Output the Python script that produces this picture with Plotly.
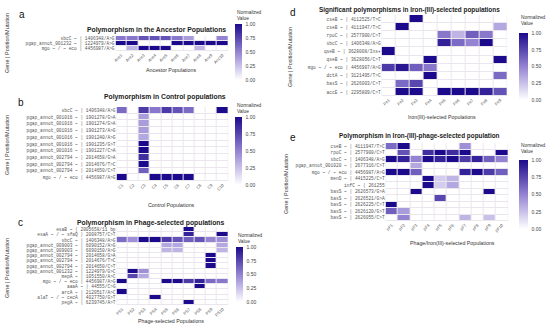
import plotly.graph_objects as go

# ---------------- data ----------------
anc_cols = [f"Anc{i}" for i in range(1, 11)]
anc_rows = ["sbcC ~ | 1406348/A>G",
            "pgap_annot_001232 ~ | 1224979/A>G",
            "mgo ~ / ~ eco | 4456987/A>G"]
anc_vals = [
    [0.55, 0.55, 0.7, 0.7, 0.7, 0.55, 0.4, 0, 0, 0.5],
    [1.0, 1.0, 0, 0, 0, 1.0, 1.0, 1.0, 1.0, 1.0],
    [0, 0.3, 1.0, 1.0, 1.0, 0, 0, 0.3, 0, 0],
]

ctl_cols = [f"C{i}" for i in range(1, 11)]
ctl_rows = ["sbcC ~ | 1406348/A>G",
            "pgap_annot_001016 ~ | 1901278/G>A",
            "pgap_annot_001016 ~ | 1901274/G>A",
            "pgap_annot_001016 ~ | 1901273/A>G",
            "pgap_annot_001016 ~ | 1901240/A>G",
            "pgap_annot_001016 ~ | 1901235/G>T",
            "pgap_annot_001016 ~ | 1901227/C>A",
            "pgap_annot_002794 ~ | 2014658/G>A",
            "pgap_annot_002794 ~ | 2014676/T>C",
            "pgap_annot_002794 ~ | 2014650/C>T",
            "mgo ~ / ~ eco | 4456987/A>G"]
ctl_vals = [
    [0.6, 0, 0.8, 0.55, 0.8, 0.7, 0.6, 0, 0, 1.0],
    [0, 0, 0.4, 0, 0, 0, 0, 0, 0, 0],
    [0, 0, 0.4, 0, 0, 0, 0, 0, 0, 0],
    [0, 0, 0.4, 0, 0, 0, 0, 0, 0, 0],
    [0, 0, 0.35, 0, 0, 0, 0, 0, 0, 0],
    [0, 0, 1.0, 0, 0, 0, 0, 0, 0, 0],
    [0, 0, 1.0, 0, 0, 0, 0, 0, 0, 0],
    [0, 0, 0.85, 0, 0, 0, 0, 0, 0, 0],
    [0, 0, 1.0, 0, 0, 0, 0, 0, 0, 0],
    [0, 0, 0.65, 0, 0, 0, 0, 0, 0, 0],
    [1.0, 0, 0, 1.0, 1.0, 1.0, 1.0, 0, 0, 0],
]

ps_cols = [f"PS{i}" for i in range(1, 11)]
ps_rows = ["esaB ~ | 2005658/11 bp",
           "esaA ~ / ~ sfaQ | 2008757/C>T",
           "sbcC ~ | 1406348/A>G",
           "pgap_annot_009003 ~ | 6090152/A>G",
           "pgap_annot_009003 ~ | 6090150/A>G",
           "pgap_annot_002794 ~ | 2014658/G>A",
           "pgap_annot_002794 ~ | 2014676/T>C",
           "pgap_annot_002794 ~ | 2014650/C>T",
           "pgap_annot_001232 ~ | 1224979/G>C",
           "mepA ~ | 1051550/A>C",
           "mgo ~ / ~ eco | 4456987/A>G",
           "aaaA ~ | 44555/C>G",
           "arcA ~ | 2120517/A>C",
           "alaT ~ / ~ cecA | 4027750/G>T",
           "pegA ~ | 6239745/A>T"]
ps_vals = [
    [0, 0, 0, 0, 0, 0, 1.0, 0, 0, 0],
    [0, 0, 0, 0, 0, 0, 0.9, 0, 0, 1.0],
    [0.6, 0.45, 1.0, 1.0, 0.8, 0.7, 0.65, 0.7, 0.5, 0.45],
    [0, 0, 0, 0, 0.35, 0.35, 0, 0, 0, 0.35],
    [0, 0, 0, 0, 0.3, 0.3, 0, 0, 0, 0.3],
    [0, 0, 0, 0, 0, 0, 0, 0, 1.0, 0],
    [0, 0, 0, 0, 0, 0, 0, 0, 1.0, 0],
    [0, 0, 0, 0, 0, 0, 0, 0, 1.0, 0],
    [0, 1.0, 0.45, 0, 0, 0, 0, 0, 0, 0],
    [0, 0.75, 0.35, 0, 0, 0, 0, 0, 0, 0],
    [1.0, 0, 0, 0, 1.0, 1.0, 0.8, 0.9, 0.6, 0.55],
    [0, 0, 0, 0, 0, 0, 0, 1.0, 0, 0],
    [1.0, 0, 0, 0, 0, 0, 0, 0, 0, 0],
    [0, 0, 0, 1.0, 0, 0, 0, 0, 0, 0],
    [0, 0, 0, 0, 0, 0, 1.0, 0, 0, 0],
]

fe_cols = [f"Fe{i}" for i in range(1, 10)]
fe_rows = ["cseB ~ | 4112525/T>C",
           "cseB ~ | 4111947/T>C",
           "rpoC ~ | 2577900/C>T",
           "sbcC ~ | 1406348/A>G",
           "qseB ~ | 3628008/Ins+",
           "qseB ~ | 3628056/C>T",
           "mgo ~ / ~ eco | 4456987/A>G",
           "dctA ~ | 3121495/T>C",
           "basS ~ | 2626003/C>T",
           "accE ~ | 2295809/C>T"]
fe_vals = [
    [0, 0, 1.0, 0, 0, 0, 0, 0, 0],
    [0, 1.0, 0, 0, 0, 0, 0, 0, 0.35],
    [0, 0, 0, 0, 0.55, 0.3, 0.65, 0.55, 0],
    [0, 0, 0, 0, 0.9, 0.6, 0.5, 1.0, 0],
    [1.0, 0, 0, 0, 0, 0, 0, 0, 0],
    [0, 0, 0, 1.0, 0, 0, 0, 0, 1.0],
    [0.8, 0.95, 0.65, 0.55, 0, 0, 0, 0, 0],
    [0, 0, 0, 1.0, 0, 0, 0, 0, 0.6],
    [0, 0.6, 0.75, 0, 0, 0, 0, 0, 0],
    [0, 1.0, 1.0, 0, 1.0, 1.0, 1.0, 0.9, 0.7],
]

pf_cols = [f"pF{i}" for i in range(1, 11)]
pf_rows = ["cseB ~ | 4111947/T>C",
           "rpoC ~ | 2577900/C>T",
           "sbcC ~ | 1406348/A>G",
           "pgap_annot_001020 ~ | 2677316/C>T",
           "mgo ~ / ~ eco | 4456987/A>G",
           "menD ~ | 4415225/C>T",
           "infC ~ | 261255",
           "basS ~ | 2626573/G>A",
           "basS ~ | 2626521/G>A",
           "basS ~ | 2626225/C>T",
           "basS ~ | 2626120/G>T",
           "basS ~ | 2626055/C>T"]
pf_vals = [
    [0.6, 1.0, 0, 0, 0, 0, 0.45, 0, 0, 0],
    [0, 0.7, 0, 0.85, 1.0, 0.85, 1.0, 0, 0, 1.0],
    [1.0, 0.9, 0.5, 1.0, 0.9, 1.0, 0.8, 0.9, 0.65, 0.5],
    [0, 0, 0.35, 0, 0, 0, 0, 0, 0, 0],
    [1.0, 1.0, 0.65, 0, 0, 0, 0.9, 1.0, 0.8, 0.65],
    [0, 0, 0, 1.0, 0.2, 0.3, 0, 0, 0, 0],
    [0, 0, 0, 1.0, 0.2, 0.35, 0, 0, 0, 0],
    [0, 0, 1.0, 0, 0, 0, 0, 0, 1.0, 0],
    [0, 0, 0, 0, 0.75, 0, 0, 0, 0, 0],
    [1.0, 0, 0, 0, 0, 0, 0, 0, 0, 0],
    [0.65, 0.4, 0, 0, 0, 0, 0, 0, 0, 0],
    [0, 0.5, 0, 0, 0, 0, 0.3, 0, 0.25, 0],
]

titles = ["Polymorphism in the Ancestor Populations",
          "Polymorphism in Control populations",
          "Polymorphism in Phage-selected populations",
          "Significant polymorphisms in Iron-(III)-selected populations",
          "Polymorphism in Iron-(III)-phage-selected population"]
xtitles = ["Ancestor Populations", "Control Populations",
           "Phage-selected Populations", "Iron(III)-selected Populations",
           "Phage/Iron(III)-selected Populations"]
letters = ["a", "b", "c", "d", "e"]

# ---------------- layout geometry (pixels) ----------------
W, H = 550, 328
panels = [
    dict(hm=(114, 227, 36, 51), cb=(234, 24, 80), title=(155, 30), xt=(170, 70), let=(20, 14), yt=(5, 43), nv=8),
    dict(hm=(115, 227, 107, 181), cb=(234, 117, 185), title=(164, 97), xt=(170, 205), let=(19, 103), yt=(5, 145), nv=101),
    dict(hm=(115, 227, 227, 305), cb=(235, 247, 302), title=(150, 223), xt=(170, 321), let=(19, 222), yt=(5, 268), nv=231),
    dict(hm=(381, 507, 15, 96), cb=(519, 33, 100), title=(409, 10), xt=(442, 117), let=(292, 12), yt=(289, 57), nv=13),
    dict(hm=(385, 508, 143, 221), cb=(519, 160, 229), title=(419, 136), xt=(452, 243), let=(292, 138), yt=(285, 184), nv=141),
]

cols_list = [anc_cols, ctl_cols, ps_cols, fe_cols, pf_cols]
rows_list = [anc_rows, ctl_rows, ps_rows, fe_rows, pf_rows]
vals_list = [anc_vals, ctl_vals, ps_vals, fe_vals, pf_vals]

cscale = [[0, "#ffffff"], [0.5, "#9483d2"], [1, "#1c0a8c"]]

fig = go.Figure()
annotations = []
layout_axes = {}

for i, p in enumerate(panels):
    n = i + 1
    sx = "" if n == 1 else str(n)
    x0, x1, y0, y1 = p["hm"]
    cbx, cby0, cby1 = p["cb"]
    fig.add_trace(go.Heatmap(
        z=vals_list[i], x=cols_list[i], y=rows_list[i],
        zmin=0, zmax=1, colorscale=cscale, xgap=1, ygap=1,
        xaxis="x" + sx, yaxis="y" + sx,
        colorbar=dict(x=cbx / W, xanchor="left", xpad=0, ypad=0,
                      y=1 - cby0 / H, yanchor="top",
                      len=(cby1 - cby0) / H, lenmode="fraction",
                      thickness=7 if i < 3 else 9, outlinewidth=0,
                      tickvals=[0, 0.25, 0.5, 0.75, 1],
                      ticktext=["0.00", "0.25", "0.50", "0.75", "1.00"],
                      ticks="outside", ticklen=3, tickcolor="rgba(255,255,255,0)",
                      tickfont=dict(size=5, color="#444", family="Liberation Sans")),
    ))
    layout_axes["xaxis" + sx] = dict(
        domain=[x0 / W, x1 / W], anchor="y" + sx, type="category",
        tickmode="array", tickvals=cols_list[i], ticktext=cols_list[i],
        tickangle=-45, tickfont=dict(size=4.2, color="#555", family="Liberation Sans"),
        showgrid=False, zeroline=False, ticks="", showline=False)
    layout_axes["yaxis" + sx] = dict(
        domain=[1 - y1 / H, 1 - y0 / H], anchor="x" + sx, type="category",
        tickmode="array", tickvals=rows_list[i], ticktext=rows_list[i],
        autorange="reversed",
        tickfont=dict(size=4.5, color="#555", family="Liberation Mono"),
        showgrid=False, zeroline=False, ticks="", showline=False)

    tx, ty = p["title"]
    annotations.append(dict(text="<b>" + titles[i] + "</b>", x=tx / W, y=1 - ty / H,
                            xref="paper", yref="paper", showarrow=False,
                            xanchor="center", yanchor="middle",
                            font=dict(size=6.8 if i < 3 else 6.4, color="#222", family="Liberation Sans")))
    xx, xy = p["xt"]
    annotations.append(dict(text=xtitles[i], x=xx / W, y=1 - xy / H,
                            xref="paper", yref="paper", showarrow=False,
                            xanchor="center", yanchor="middle",
                            font=dict(size=5.3, color="#333", family="Liberation Sans")))
    lx, ly = p["let"]
    annotations.append(dict(text=letters[i], x=lx / W, y=1 - ly / H,
                            xref="paper", yref="paper", showarrow=False,
                            xanchor="center", yanchor="middle",
                            font=dict(size=10, color="#111", family="Liberation Sans")))
    yx, yy = p["yt"]
    annotations.append(dict(text="Gene | Position/Mutation", x=yx / W, y=1 - yy / H,
                            xref="paper", yref="paper", showarrow=False, textangle=-90,
                            xanchor="center", yanchor="middle",
                            font=dict(size=5.5, color="#333", family="Liberation Sans")))
    annotations.append(dict(text="Normalized<br>Value", x=cbx / W, y=1 - p["nv"] / H,
                            xref="paper", yref="paper", showarrow=False, align="left",
                            xanchor="left", yanchor="top",
                            font=dict(size=4.8, color="#333", family="Liberation Sans")))

fig.update_layout(
    width=W, height=H, margin=dict(l=0, r=0, t=0, b=0),
    paper_bgcolor="white", plot_bgcolor="#ebe6ee",
    showlegend=False, annotations=annotations, **layout_axes)

fig.write_html("out.html", config={"displayModeBar": False},
               post_script="document.body.style.margin='0px';")
